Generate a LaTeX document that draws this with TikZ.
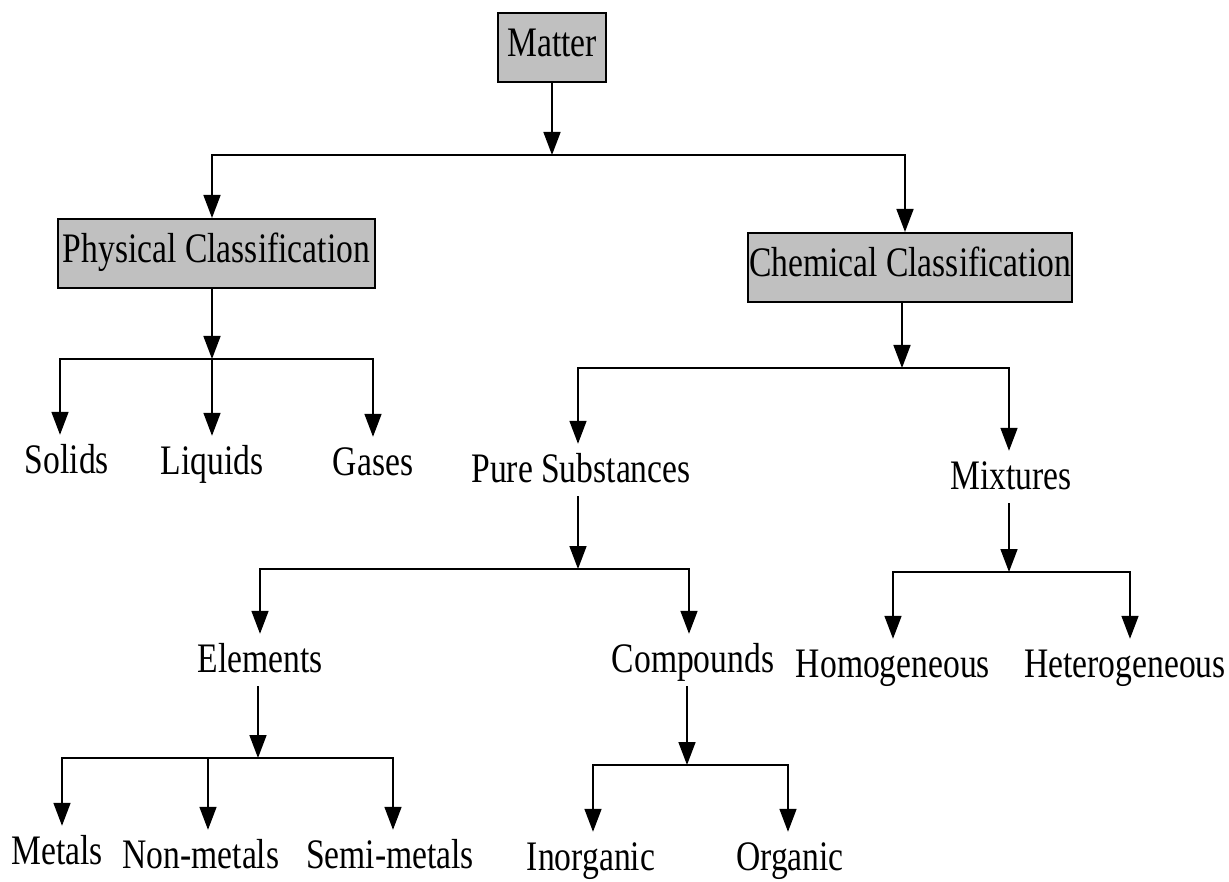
\documentclass[tikz,border=0pt]{standalone}
\usepackage{fontspec}
\setmainfont{Liberation Serif}[FakeStretch=0.8]
\usetikzlibrary{arrows.meta}
\definecolor{boxgray}{RGB}{192,192,192}
\begin{document}
\begin{tikzpicture}[x=1pt,y=-1pt,
  every node/.style={font=\fontsize{42}{50}\selectfont},
  hdr/.style={draw=black, line width=2pt, fill=boxgray, inner sep=0pt, text height=27pt, text depth=9pt},
  lbl/.style={inner xsep=0pt, inner ysep=0pt, anchor=base, text height=38pt, text depth=14pt},
  arr/.style={-{Triangle[length=23pt,width=17pt]}, line width=1.6pt},
  bar/.style={line width=1.8pt, line cap=rect}]
\useasboundingbox (0,0) rectangle (1229,882);

% header boxes
\node[hdr, minimum width=108pt, minimum height=69pt] (matter) at (552,47.5) {Matter};
\node[hdr, minimum width=317pt, minimum height=69pt] (phys) at (216.5,253.5) {Physical Classification};
\node[hdr, minimum width=324pt, minimum height=69pt] (chem) at (910,267.5) {Chemical Classification};

% labels
\node[lbl] (solids)  at (67,473)  {Solids};
\node[lbl] (liquids) at (212,474) {Liquids};
\node[lbl] (gases)   at (373,475) {Gases};
\node[lbl] (pure)    at (581,482) {Pure Substances};
\node[lbl] (mix)     at (1011,489) {Mixtures};
\node[lbl] (elem)    at (260,672) {Elements};
\node[lbl] (comp)    at (693,672) {Compounds};
\node[lbl] (homo)    at (893,677) {Homogeneous};
\node[lbl] (hetero)  at (1125,677) {Heterogeneous};
\node[lbl] (metals)  at (57,864)  {Metals};
\node[lbl] (nonmet)  at (201,868) {Non-metals};
\node[lbl] (semimet) at (390,868) {Semi-metals};
\node[lbl] (inorg)   at (591,870) {Inorganic};
\node[lbl] (org)     at (790,870) {Organic};

% bar coordinates
\coordinate (b0m) at (552,155); \coordinate (b0l) at (212,155); \coordinate (b0r) at (905,155);
\coordinate (b1m) at (212,359); \coordinate (b1l) at (60,359);  \coordinate (b1r) at (373,359);
\coordinate (b2m) at (902,368); \coordinate (b2l) at (578,368); \coordinate (b2r) at (1009,368);
\coordinate (b3m) at (578,569); \coordinate (b3l) at (260,569); \coordinate (b3r) at (689,569);
\coordinate (b4m) at (1009,572); \coordinate (b4l) at (893,572); \coordinate (b4r) at (1130,572);
\coordinate (b5m) at (258,758); \coordinate (b5l) at (62,758);  \coordinate (b5c) at (208,758); \coordinate (b5r) at (393,758);
\coordinate (b6m) at (687,765); \coordinate (b6l) at (593,765); \coordinate (b6r) at (788,765);

% Matter
\draw[arr] (matter) -- (b0m);
\draw[bar] (b0l) -- (b0r);
\draw[arr] (b0l) -- (b0l |- phys.north);
\draw[arr] (b0r) -- (b0r |- chem.north);

% Physical
\draw[arr] (phys.south -| b1m) -- (b1m);
\draw[bar] (b1l) -- (b1r);
\draw[arr] (b1l) -- (b1l |- solids.north);
\draw[arr] (b1m) -- (b1m |- liquids.north);
\draw[arr] (b1r) -- (b1r |- gases.north);

% Chemical
\draw[arr] (chem.south -| b2m) -- (b2m);
\draw[bar] (b2l) -- (b2r);
\draw[arr] (b2l) -- (b2l |- pure.north);
\draw[arr] (b2r) -- (b2r |- mix.north);

% Pure substances
\draw[arr] (pure.south -| b3m) -- (b3m);
\draw[bar] (b3l) -- (b3r);
\draw[arr] (b3l) -- (b3l |- elem.north);
\draw[arr] (b3r) -- (b3r |- comp.north);

% Mixtures
\draw[arr] (mix.south -| b4m) -- (b4m);
\draw[bar] (b4l) -- (b4r);
\draw[arr] (b4l) -- (b4l |- homo.north);
\draw[arr] (b4r) -- (b4r |- hetero.north);

% Elements
\draw[arr] (elem.south -| b5m) -- (b5m);
\draw[bar] (b5l) -- (b5r);
\draw[arr] (b5l) -- (b5l |- metals.north);
\draw[arr] (b5c) -- (b5c |- nonmet.north);
\draw[arr] (b5r) -- (b5r |- semimet.north);

% Compounds
\draw[arr] (comp.south -| b6m) -- (b6m);
\draw[bar] (b6l) -- (b6r);
\draw[arr] (b6l) -- (b6l |- inorg.north);
\draw[arr] (b6r) -- (b6r |- org.north);
\end{tikzpicture}
\end{document}
